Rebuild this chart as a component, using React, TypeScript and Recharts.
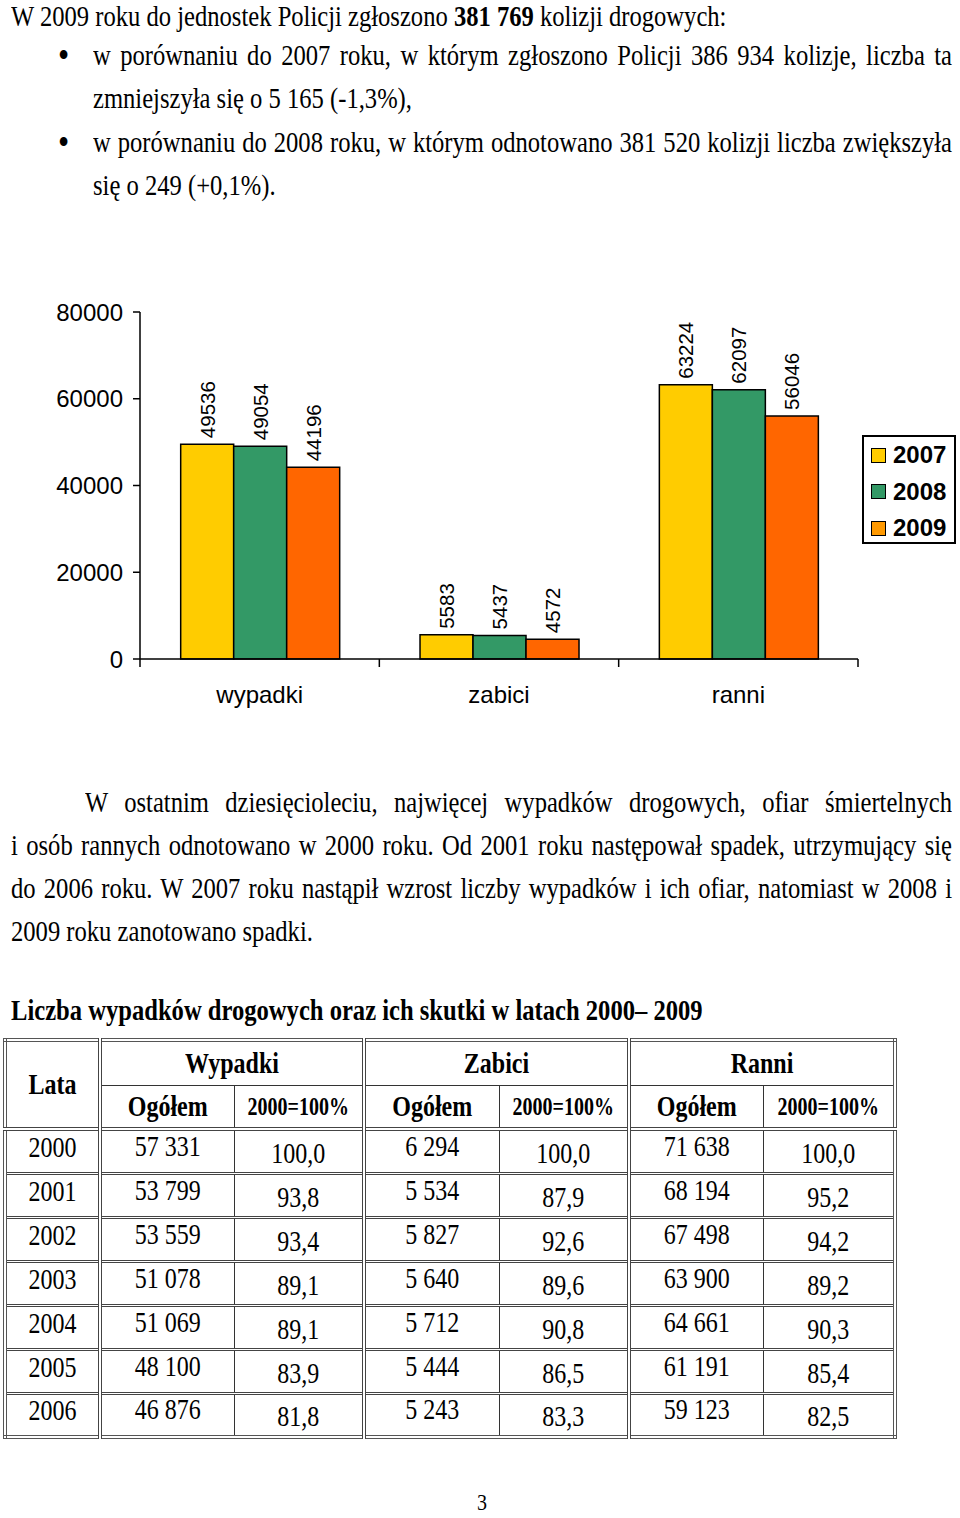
import React from "react";
import {
  BarChart,
  Bar,
  XAxis,
  YAxis,
  Legend,
  LabelList,
} from "recharts";

// chart data
const categories = ["wypadki", "zabici", "ranni"];
const years = ["2007", "2008", "2009"];
const values2007 = [49536, 5583, 63224];
const values2008 = [49054, 5437, 62097];
const values2009 = [44196, 4572, 56046];
const yTicks = [0, 20000, 40000, 60000, 80000];

// table data
const tableYears = ["2000", "2001", "2002", "2003", "2004", "2005", "2006"];
const wypadkiTotal = ["57 331", "53 799", "53 559", "51 078", "51 069", "48 100", "46 876"];
const wypadkiIndex = ["100,0", "93,8", "93,4", "89,1", "89,1", "83,9", "81,8"];
const zabiciTotal = ["6 294", "5 534", "5 827", "5 640", "5 712", "5 444", "5 243"];
const zabiciIndex = ["100,0", "87,9", "92,6", "89,6", "90,8", "86,5", "83,3"];
const ranniTotal = ["71 638", "68 194", "67 498", "63 900", "64 661", "61 191", "59 123"];
const ranniIndex = ["100,0", "95,2", "94,2", "89,2", "90,3", "85,4", "82,5"];

const barColors = ["#FFCC00", "#339966", "#FF6600"];
const legendColors = ["#FFCC00", "#339966", "#FF9900"];

const chartData = categories.map((name, i) => ({
  name,
  y2007: values2007[i],
  y2008: values2008[i],
  y2009: values2009[i],
}));

const SANS = '"Liberation Sans", Arial, sans-serif';
const SERIF = '"Liberation Serif", "Times New Roman", serif';

const CHART_W = 960;
const CHART_H = 440;
const MARGIN = { top: 22, right: 102, left: 0, bottom: 10 };
const YAXIS_W = 140;
const BAND = (CHART_W - MARGIN.left - MARGIN.right - YAXIS_W) / categories.length;

const CategoryTick = (props: any) => {
  const { x, y, payload, index } = props;
  const half = BAND / 2;
  return (
    <g>
      <line x1={x - half} y1={y} x2={x - half} y2={y + 8} stroke="#000" strokeWidth={1.5} />
      {index === categories.length - 1 && (
        <line x1={x + half} y1={y} x2={x + half} y2={y + 8} stroke="#000" strokeWidth={1.5} />
      )}
      <text x={x} y={y + 44} textAnchor="middle" fontSize={24} fontFamily={SANS} fill="#000">
        {payload.value}
      </text>
    </g>
  );
};

const renderValue = (props: any) => {
  const { x, y, width, value } = props;
  const cx = x + width / 2;
  const cy = y - 6;
  return (
    <text
      x={cx}
      y={cy}
      transform={`rotate(-90 ${cx} ${cy})`}
      textAnchor="start"
      dominantBaseline="central"
      fontSize={20.5}
      fontFamily={SANS}
      fill="#000"
    >
      {value}
    </text>
  );
};

const LegendBox = () => (
  <div
    style={{
      width: 90,
      height: 105,
      border: "2px solid #000",
      background: "#fff",
      fontFamily: SANS,
      fontWeight: "bold",
      fontSize: 24,
      boxSizing: "content-box",
    }}
  >
    {years.map((yr, i) => (
      <div key={yr} style={{ display: "flex", alignItems: "center", height: 36.5, paddingLeft: 7 }}>
        <span
          style={{
            display: "inline-block",
            width: 13,
            height: 13,
            border: "1.5px solid #000",
            background: legendColors[i],
            marginRight: 7,
          }}
        />
        <span>{yr}</span>
      </div>
    ))}
  </div>
);

function TextLine({ y, x, right, justify, bold, size, children }: any) {
  const style: React.CSSProperties = {
    position: "absolute",
    fontFamily: SERIF,
    fontSize: size || 24.6,
    lineHeight: "24px",
    height: 24,
    color: "#000",
    transform: "scaleY(1.2)",
    transformOrigin: "center",
    top: y - 12,
    left: x,
    fontWeight: bold ? "bold" : "normal",
  };
  if (justify) {
    style.width = right - x;
    style.textAlign = "justify";
    style.textAlignLast = "justify";
  } else {
    style.whiteSpace = "nowrap";
  }
  return <div style={style}>{children}</div>;
}

const cellBase: React.CSSProperties = {
  border: "1px solid #333",
  padding: 0,
  fontFamily: SERIF,
  fontSize: 24,
  textAlign: "center",
  color: "#000",
};
const groupEdge = "4px double #444";

function Cell({ children, bold, small, edge, rowSpan, colSpan, shift }: any) {
  const style: React.CSSProperties = {
    ...cellBase,
    fontWeight: bold ? "bold" : "normal",
    fontSize: small ? 20 : 24,
    verticalAlign: "middle",
  };
  if (edge) style.borderRight = groupEdge;
  return (
    <td style={style} rowSpan={rowSpan} colSpan={colSpan}>
      <span style={{ display: "inline-block", transform: `translateY(${shift || 0}px) scaleY(1.25)` }}>
        {children}
      </span>
    </td>
  );
}

function DataTable() {
  const cols = [95, 134, 130, 135, 130, 134, 132];
  const totals = [wypadkiTotal, zabiciTotal, ranniTotal];
  const indexes = [wypadkiIndex, zabiciIndex, ranniIndex];
  return (
    <table
      style={{
        position: "absolute",
        left: 3,
        top: 1038,
        width: 890,
        borderCollapse: "collapse",
        border: "4px double #555",
        tableLayout: "fixed",
      }}
    >
      <colgroup>
        {cols.map((w, i) => (
          <col key={i} style={{ width: w }} />
        ))}
      </colgroup>
      <tbody>
        <tr style={{ height: 45 }}>
          <Cell bold rowSpan={2} edge>Lata</Cell>
          <Cell bold colSpan={2} edge>Wypadki</Cell>
          <Cell bold colSpan={2} edge>Zabici</Cell>
          <Cell bold colSpan={2}>Ranni</Cell>
        </tr>
        <tr style={{ height: 44, borderBottom: groupEdge }}>
          <Cell bold>Ogółem</Cell>
          <Cell bold small edge>2000=100%</Cell>
          <Cell bold>Ogółem</Cell>
          <Cell bold small edge>2000=100%</Cell>
          <Cell bold>Ogółem</Cell>
          <Cell bold small>2000=100%</Cell>
        </tr>
        {tableYears.map((yr, r) => (
          <tr key={yr} style={{ height: 44, borderBottom: "3px double #444" }}>
            <Cell edge shift={-4}>{yr}</Cell>
            {totals.map((t, g) => (
              <React.Fragment key={g}>
                <Cell shift={-5}>{t[r]}</Cell>
                <Cell edge={g < 2} shift={2}>{indexes[g][r]}</Cell>
              </React.Fragment>
            ))}
          </tr>
        ))}
      </tbody>
    </table>
  );
}

function AccidentsChart() {
  return (
    <div style={{ position: "absolute", left: 0, top: 290, width: CHART_W, height: CHART_H }}>
      <BarChart
        width={CHART_W}
        height={CHART_H}
        data={chartData}
        margin={MARGIN}
        barCategoryGap="17%"
        barGap={0}
      >
        <XAxis
          dataKey="name"
          height={61}
          interval={0}
          tickSize={0}
          tickMargin={0}
          tickLine={false}
          tick={<CategoryTick />}
          axisLine={{ stroke: "#000", strokeWidth: 1.5 }}
        />
        <YAxis
          width={YAXIS_W}
          domain={[0, 80000]}
          ticks={yTicks}
          interval={0}
          tickSize={7}
          tickMargin={10}
          tick={{ fontSize: 24, fill: "#000", fontFamily: SANS }}
          tickLine={{ stroke: "#000", strokeWidth: 1.5 }}
          axisLine={{ stroke: "#000", strokeWidth: 1.5 }}
        />
        <Legend
          layout="horizontal"
          verticalAlign="middle"
          align="center"
          wrapperStyle={{ left: 862, top: 145, width: 94, height: 109 }}
          content={() => <LegendBox />}
        />
        {years.map((yr, i) => (
          <Bar
            key={yr}
            dataKey={`y${yr}`}
            name={yr}
            fill={barColors[i]}
            stroke="#000"
            strokeWidth={1.5}
            isAnimationActive={false}
          >
            <LabelList dataKey={`y${yr}`} content={renderValue} />
          </Bar>
        ))}
      </BarChart>
    </div>
  );
}

export default function App() {
  return (
    <div
      style={{
        position: "absolute",
        left: 0,
        top: 0,
        width: 960,
        height: 1518,
        background: "#fff",
        overflow: "hidden",
      }}
    >
      <TextLine y={16} x={11}>
        W 2009 roku do jednostek Policji zgłoszono <b>381 769</b> kolizji drogowych:
      </TextLine>
      <TextLine y={55} x={58} size={32}>•</TextLine>
      <TextLine y={55} x={93} right={952} justify>
        w porównaniu do 2007 roku, w którym zgłoszono Policji 386 934 kolizje, liczba ta
      </TextLine>
      <TextLine y={98} x={93}>zmniejszyła się o 5 165 (-1,3%),</TextLine>
      <TextLine y={142} x={58} size={32}>•</TextLine>
      <TextLine y={142} x={93} right={952} justify>
        w porównaniu do 2008 roku, w którym odnotowano 381 520 kolizji liczba zwiększyła
      </TextLine>
      <TextLine y={185} x={93}>się o 249 (+0,1%).</TextLine>

      <AccidentsChart />

      <TextLine y={802} x={85} right={952} justify>
        W ostatnim dziesięcioleciu, najwięcej wypadków drogowych, ofiar śmiertelnych
      </TextLine>
      <TextLine y={845} x={11} right={952} justify>
        i osób rannych odnotowano w 2000 roku. Od 2001 roku następował spadek, utrzymujący się
      </TextLine>
      <TextLine y={888} x={11} right={952} justify>
        do 2006 roku. W 2007 roku nastąpił wzrost liczby wypadków i ich ofiar, natomiast w 2008 i
      </TextLine>
      <TextLine y={931} x={11}>2009 roku zanotowano spadki.</TextLine>

      <TextLine y={1010} x={11} bold>
        Liczba wypadków drogowych oraz ich skutki w latach 2000– 2009
      </TextLine>

      <DataTable />

      <TextLine y={1502} x={477} size={20}>3</TextLine>
    </div>
  );
}
